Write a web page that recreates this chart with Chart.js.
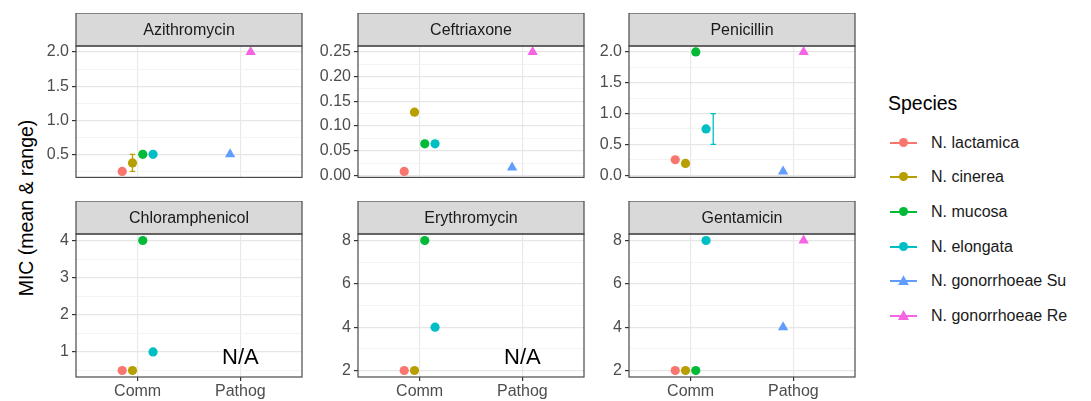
<!DOCTYPE html>
<html>
<head>
<meta charset="utf-8">
<script src="https://cdn.jsdelivr.net/npm/chart.js@4.4.1/dist/chart.umd.min.js"></script>
<style>
    body { margin: 0; background: #fff; width: 1091px; height: 401px; overflow: hidden; position: relative; font-family: "Liberation Sans", Arial, sans-serif; }
    canvas { position: absolute; }
    #ytitle { position: absolute; left: 26px; top: 208px; transform: translate(-50%, -50%) rotate(-90deg); font-size: 19.5px; color: #000; white-space: nowrap; }
    #legend-title { position: absolute; left: 888px; top: 92px; font-size: 19.5px; color: #000; }
    .key { position: absolute; left: 890px; width: 27px; height: 2px; }
    .dot { position: absolute; left: 9px; top: -4px; width: 9px; height: 9px; border-radius: 50%; }
    .tri { position: absolute; left: 8px; top: -5px; width: 11px; height: 10px; clip-path: polygon(50% 0, 100% 100%, 0 100%); }
    .label { position: absolute; left: 931px; font-size: 16px; color: #1a1a1a; transform: translateY(-50%); white-space: nowrap; }
</style>
</head>
<body>
<div id="ytitle">MIC (mean &amp; range)</div>
<div id="legend-title">Species</div>
<div id="legend"></div>

<script>
const categories = ["Comm", "Pathog"]
const species = ["N. lactamica", "N. cinerea", "N. mucosa", "N. elongata", "N. gonorrhoeae Su", "N. gonorrhoeae Re"]
const speciesGroup = ["Comm", "Comm", "Comm", "Comm", "Pathog", "Pathog"]
const colors = ["#F8766D", "#B79F00", "#00BA38", "#00BFC4", "#619CFF", "#F564E3"]
const shapes = ["circle", "circle", "circle", "circle", "triangle", "triangle"]

// mean MIC per species (null = not tested)
const azithromycin = [0.25, 0.375, 0.5, 0.5, 0.5, 2.0]
const ceftriaxone = [0.008, 0.128, 0.064, 0.064, 0.016, 0.25]
const penicillin = [0.25, 0.19, 2.0, 0.75, 0.06, 2.0]
const chloramphenicol = [0.5, 0.5, 4, 1, null, null]
const erythromycin = [2, 2, 8, 4, null, null]
const gentamicin = [2, 2, 2, 8, 4, 8]

// min/max range where there is one
const azithromycinRange = [null, [0.25, 0.5], null, null, null, null]
const penicillinRange = [null, null, null, [0.5, 1.0], null, null]

// y tick labels
const azithromycinTicks = ["0.5", "1.0", "1.5", "2.0"]
const ceftriaxoneTicks = ["0.00", "0.05", "0.10", "0.15", "0.20", "0.25"]
const penicillinTicks = ["0.0", "0.5", "1.0", "1.5", "2.0"]
const chloramphenicolTicks = ["1", "2", "3", "4"]
const erythromycinTicks = ["2", "4", "6", "8"]
const gentamicinTicks = ["2", "4", "6", "8"]

const panels = [
    { name: "Azithromycin", values: azithromycin, ranges: azithromycinRange, ticks: azithromycinTicks, shift: 0 },
    { name: "Ceftriaxone", values: ceftriaxone, ranges: null, ticks: ceftriaxoneTicks, shift: 0 },
    { name: "Penicillin", values: penicillin, ranges: penicillinRange, ticks: penicillinTicks, shift: 0.07 },
    { name: "Chloramphenicol", values: chloramphenicol, ranges: null, ticks: chloramphenicolTicks, shift: 0 },
    { name: "Erythromycin", values: erythromycin, ranges: null, ticks: erythromycinTicks, shift: 0 },
    { name: "Gentamicin", values: gentamicin, ranges: null, ticks: gentamicinTicks, shift: 0 },
]

// layout
const colLeft = [76, 358, 629]
const panelW = 226
const rowTop = [13, 201]
const stripH = 33
const panelH = 143
const yAxisW = 62
const FONT = "'Liberation Sans', Arial, sans-serif"

// ggplot-like dodge: width 0.4 shared by the groups at one x
function xFor(i) {
    const g = speciesGroup[i]
    const members = species.map((s, k) => k).filter(k => speciesGroup[k] === g)
    const n = members.length
    const k = members.indexOf(i)
    return categories.indexOf(g) + 1 + (k - (n - 1) / 2) * 0.4 / n
}

const panelPlugin = {
    id: 'panel',
    beforeDatasetsDraw(chart, args, opts) {
        const ctx = chart.ctx
        const xs = chart.scales.x, ys = chart.scales.y
        if (!opts.ranges) return
        opts.ranges.forEach((r, i) => {
            if (!r) return
            const px = xs.getPixelForValue(xFor(i) + opts.shift)
            const y1 = ys.getPixelForValue(r[0]), y2 = ys.getPixelForValue(r[1])
            ctx.save()
            ctx.strokeStyle = colors[i]
            ctx.lineWidth = 1.3
            ctx.beginPath()
            ctx.moveTo(px, y1); ctx.lineTo(px, y2)
            ctx.moveTo(px - 2.7, y1); ctx.lineTo(px + 2.7, y1)
            ctx.moveTo(px - 2.7, y2); ctx.lineTo(px + 2.7, y2)
            ctx.stroke()
            ctx.restore()
        })
    },
    afterDatasetsDraw(chart, args, opts) {
        const ctx = chart.ctx
        const a = chart.chartArea
        ctx.save()
        // strip
        ctx.fillStyle = "#d9d9d9"
        ctx.fillRect(a.left, a.top - stripH, a.right - a.left, stripH)
        ctx.strokeStyle = "#4a4a4a"
        ctx.lineWidth = 1.2
        ctx.strokeRect(a.left, a.top - stripH, a.right - a.left, stripH)
        ctx.fillStyle = "#1a1a1a"
        ctx.font = "16px " + FONT
        ctx.textAlign = "center"
        ctx.textBaseline = "middle"
        ctx.fillText(opts.name, (a.left + a.right) / 2, a.top - stripH / 2 + 1)
        // panel border
        ctx.strokeRect(a.left, a.top, a.right - a.left, a.bottom - a.top)
        // N/A where no pathogen data
        const patho = opts.values.filter((v, i) => speciesGroup[i] === "Pathog" && v !== null)
        if (patho.length === 0) {
            ctx.fillStyle = "#000"
            ctx.font = "22px " + FONT
            ctx.fillText("N/A", chart.scales.x.getPixelForValue(2), a.bottom - 19.5)
        }
        ctx.restore()
    }
}

function loadPanel(panel, idx) {
    const row = Math.floor(idx / 3), col = idx % 3
    const bottomRow = row === 1
    const axisH = bottomRow ? 24 : 0

    const canvas = document.createElement("canvas")
    const w = yAxisW + panelW + 10
    const h = stripH + panelH + axisH + (bottomRow ? 0 : 1)
    canvas.width = w
    canvas.height = h
    canvas.style.left = (colLeft[col] - yAxisW) + "px"
    canvas.style.top = rowTop[row] + "px"
    document.body.appendChild(canvas)

    // y range: data + ranges, expanded 5% like ggplot
    let all = panel.values.filter(v => v !== null)
    if (panel.ranges) panel.ranges.forEach(r => { if (r) all = all.concat(r) })
    const lo = Math.min(...all), hi = Math.max(...all)
    const pad = (hi - lo) * 0.05
    const yMin = lo - pad, yMax = hi + pad

    const majors = panel.ticks.map(parseFloat)
    const step = majors[1] - majors[0]
    let tickVals = []
    majors.forEach(v => tickVals.push(v))
    for (let k = -1; k < majors.length; k++) {
        const m = majors[0] + (k + 0.5) * step
        if (m >= yMin && m <= yMax) tickVals.push(m)
    }
    tickVals.sort((p, q) => p - q)
    const isMajor = v => majors.some(m => Math.abs(m - v) < 1e-9)
    const labelFor = v => {
        const k = majors.findIndex(m => Math.abs(m - v) < 1e-9)
        return k < 0 ? "" : panel.ticks[k]
    }

    let datasets = []
    species.forEach((s, i) => {
        if (panel.values[i] === null) return
        datasets.push({
            label: s,
            data: [{ x: xFor(i), y: panel.values[i] }],
            pointStyle: shapes[i],
            pointRadius: shapes[i] === "triangle" ? 6 : 4.6,
            backgroundColor: colors[i],
            borderColor: colors[i],
            borderWidth: 0,
            clip: false,
        })
    })

    new Chart(canvas, {
        type: 'scatter',
        data: { datasets: datasets },
        options: {
            responsive: false,
            animation: false,
            devicePixelRatio: 1,
            layout: { padding: { top: stripH, right: 10, left: 0, bottom: bottomRow ? 0 : 1 } },
            plugins: {
                legend: { display: false },
                tooltip: { enabled: false },
                panel: { name: panel.name, values: panel.values, ranges: panel.ranges, shift: panel.shift },
            },
            scales: {
                x: {
                    type: 'linear',
                    min: 0.4,
                    max: 2.6,
                    afterBuildTicks: (s) => { s.ticks = [1, 2].map(v => ({ value: v })) },
                    afterFit: (s) => { s.height = axisH },
                    ticks: {
                        display: bottomRow,
                        autoSkip: false,
                        maxRotation: 0,
                        padding: 1,
                        color: "#4d4d4d",
                        font: { family: FONT, size: 16 },
                        callback: (v) => categories[Math.round(v) - 1],
                    },
                    grid: { color: "#e9e9e9", lineWidth: 1.2, drawTicks: bottomRow, tickLength: 4, tickColor: "#333" },
                    border: { display: false },
                },
                y: {
                    min: yMin,
                    max: yMax,
                    afterBuildTicks: (s) => { s.ticks = tickVals.map(v => ({ value: v })) },
                    afterFit: (s) => { s.width = yAxisW },
                    ticks: {
                        autoSkip: false,
                        padding: 3,
                        color: "#4d4d4d",
                        font: { family: FONT, size: 16 },
                        callback: (v) => labelFor(v),
                    },
                    grid: {
                        color: (c) => isMajor(c.tick.value) ? "#e6e6e6" : "#f2f2f2",
                        lineWidth: (c) => isMajor(c.tick.value) ? 1.2 : 0.9,
                        tickLength: 4,
                        tickColor: (c) => isMajor(c.tick.value) ? "#333" : "rgba(0,0,0,0)",
                    },
                    border: { display: false },
                },
            },
        },
        plugins: [panelPlugin],
    })
}

function loadLegend() {
    const firstY = 142.7, gap = 34.65
    species.forEach((s, i) => {
        const y = firstY + i * gap
        const key = document.createElement("div")
        key.className = "key"
        key.style.top = (y - 1) + "px"
        key.style.background = colors[i]
        const mark = document.createElement("div")
        mark.className = shapes[i] === "circle" ? "dot" : "tri"
        mark.style.background = colors[i]
        key.appendChild(mark)
        document.body.appendChild(key)

        const label = document.createElement("div")
        label.className = "label"
        label.style.top = y + "px"
        label.textContent = s
        document.body.appendChild(label)
    })
}

panels.forEach((p, i) => loadPanel(p, i))
loadLegend()
</script>
</body>
</html>
